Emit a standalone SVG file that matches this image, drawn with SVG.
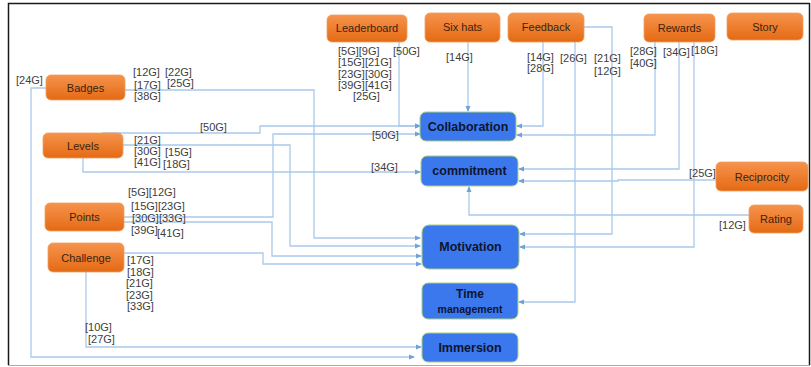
<svg xmlns="http://www.w3.org/2000/svg" width="811" height="367" viewBox="0 0 811 367">
<style>
.frame{fill:none;stroke:#1a1a1a;stroke-width:1.5}
.on rect{fill:url(#og);stroke:#f0a060;stroke-width:0.8}
.on text{font-family:"Liberation Sans",Arial,sans-serif;font-size:11px;fill:#3a2410;text-anchor:middle}
.bn rect{fill:#3b78ee;stroke:#a9cf7e;stroke-width:1}
.bn text{font-family:"Liberation Sans",Arial,sans-serif;font-weight:bold;font-size:12.5px;fill:#0d1530;text-anchor:middle}
.c path{fill:none;stroke:#a9c9ea;stroke-width:1.3}
.c path.a{marker-end:url(#ah)}
.lb text{font-family:"Liberation Sans",Arial,sans-serif;font-size:11px;fill:#404040}
</style>
<defs>
<linearGradient id="og" x1="0" y1="0" x2="0" y2="1">
<stop offset="0" stop-color="#f6934c"/>
<stop offset="1" stop-color="#e46a14"/>
</linearGradient>
<marker id="ah" markerWidth="6" markerHeight="6" refX="5" refY="3" orient="auto" markerUnits="userSpaceOnUse">
<path d="M0,0.5 L6,3 L0,5.5 Z" fill="#6fa3d8"/>
</marker>
</defs>
<rect width="811" height="367" fill="#ffffff"/>
<path d="M8.5,365 V3.5 H809.5 V365" class="frame"/>
<line x1="8" y1="365.5" x2="810" y2="365.5" stroke="#aaaaaa" stroke-width="1.2"/>

<g class="c" id="connectors">
<path class="a" d="M46,88 H31 V357 H414"/>
<path class="a" d="M125,90 H314 V238 H420"/>
<path class="a" d="M102,133 H260 V126 H420"/>
<path class="a" d="M399,42 V126 H420"/>
<path class="a" d="M123,145 H290 V246 H420"/>
<path class="a" d="M83,158 V172 H420"/>
<path class="a" d="M124,217 H273 V134 H420"/>
<path class="a" d="M124,222 H272 V256 H421"/>
<path class="a" d="M124,253 H263 V264 H421"/>
<path class="a" d="M86,272 V347 H421"/>
<path class="a" d="M468,42 V111"/>
<path class="a" d="M543,42 V126 H517"/>
<path class="a" d="M575,42 V302 H519"/>
<path class="a" d="M584,27 H612 V234 H520"/>
<path class="a" d="M655,42 V135 H517"/>
<path class="a" d="M679,42 V169 H519"/>
<path class="a" d="M694,42 V247 H520"/>
<path class="a" d="M722,180 H618 V181 H519"/>
<path class="a" d="M749,215 H469 V187"/>
</g>

<g id="badges" class="on"><rect x="46" y="75" width="79" height="25" rx="5"/><text x="85.5" y="91.5">Badges</text></g>
<g id="levels" class="on"><rect x="43" y="133" width="80" height="25" rx="5"/><text x="83" y="149.5">Levels</text></g>
<g id="points" class="on"><rect x="45" y="203" width="79" height="28" rx="5"/><text x="84.5" y="221">Points</text></g>
<g id="challenge" class="on"><rect x="48" y="243" width="76" height="29" rx="5"/><text x="86" y="261.5">Challenge</text></g>
<g id="leaderboard" class="on"><rect x="327" y="15" width="80" height="27" rx="5"/><text x="367" y="32">Leaderboard</text></g>
<g id="sixhats" class="on"><rect x="425" y="13" width="75" height="29" rx="5"/><text x="462.5" y="31">Six hats</text></g>
<g id="feedback" class="on"><rect x="508" y="13" width="76" height="29" rx="5"/><text x="546" y="31">Feedback</text></g>
<g id="rewards" class="on"><rect x="644" y="14" width="71" height="28" rx="5"/><text x="679.5" y="31.5">Rewards</text></g>
<g id="story" class="on"><rect x="727" y="13" width="76" height="27" rx="5"/><text x="765" y="30.5">Story</text></g>
<g id="reciprocity" class="on"><rect x="716" y="162" width="92" height="29" rx="5"/><text x="762" y="180.5">Reciprocity</text></g>
<g id="rating" class="on"><rect x="749" y="205" width="54" height="28" rx="5"/><text x="776" y="223">Rating</text></g>

<g id="collaboration" class="bn"><rect x="420" y="112" width="96" height="29" rx="6"/><text x="468" y="131">Collaboration</text></g>
<g id="commitment" class="bn"><rect x="421" y="156" width="97" height="30" rx="6"/><text x="469.5" y="175">commitment</text></g>
<g id="motivation" class="bn"><rect x="422" y="225" width="97" height="44" rx="7"/><text x="470.5" y="251">Motivation</text></g>
<g id="timemanagement" class="bn"><rect x="422" y="283" width="96" height="36" rx="6"/><text x="470" y="298" style="font-size:12px">Time</text><text x="470" y="313" style="font-size:10.5px">management</text></g>
<g id="immersion" class="bn"><rect x="422" y="333" width="96" height="29" rx="6"/><text x="470" y="352">Immersion</text></g>

<g class="lb" id="labels">
<text x="16" y="84">[24G]</text>
<text x="133" y="76">[12G]</text>
<text x="165" y="76">[22G]</text>
<text x="134" y="89">[17G]</text>
<text x="167" y="87">[25G]</text>
<text x="134" y="100">[38G]</text>
<text x="200" y="131">[50G]</text>
<text x="134" y="144">[21G]</text>
<text x="134" y="155">[30G]</text>
<text x="165" y="156">[15G]</text>
<text x="134" y="166">[41G]</text>
<text x="163" y="168">[18G]</text>
<text x="128" y="196">[5G][12G]</text>
<text x="131" y="210">[15G][23G]</text>
<text x="132" y="222">[30G][33G]</text>
<text x="131" y="234">[39G]</text>
<text x="157" y="237">[41G]</text>
<text x="127" y="264">[17G]</text>
<text x="127" y="276">[18G]</text>
<text x="126" y="287">[21G]</text>
<text x="126" y="299">[23G]</text>
<text x="127" y="310">[33G]</text>
<text x="85" y="331">[10G]</text>
<text x="88" y="343">[27G]</text>
<text x="372" y="139">[50G]</text>
<text x="371" y="171">[34G]</text>
<text x="338" y="55">[5G][9G]</text>
<text x="338" y="66">[15G][21G]</text>
<text x="338" y="78">[23G][30G]</text>
<text x="338" y="89">[39G][41G]</text>
<text x="353" y="100">[25G]</text>
<text x="393" y="55">[50G]</text>
<text x="446" y="61">[14G]</text>
<text x="527" y="61">[14G]</text>
<text x="527" y="72">[28G]</text>
<text x="560" y="62">[26G]</text>
<text x="594" y="62">[21G]</text>
<text x="594" y="75">[12G]</text>
<text x="630" y="55">[28G]</text>
<text x="630" y="67">[40G]</text>
<text x="663" y="56">[34G]</text>
<text x="691" y="54">[18G]</text>
<text x="689" y="177">[25G]</text>
<text x="719" y="229">[12G]</text>
</g>
</svg>
